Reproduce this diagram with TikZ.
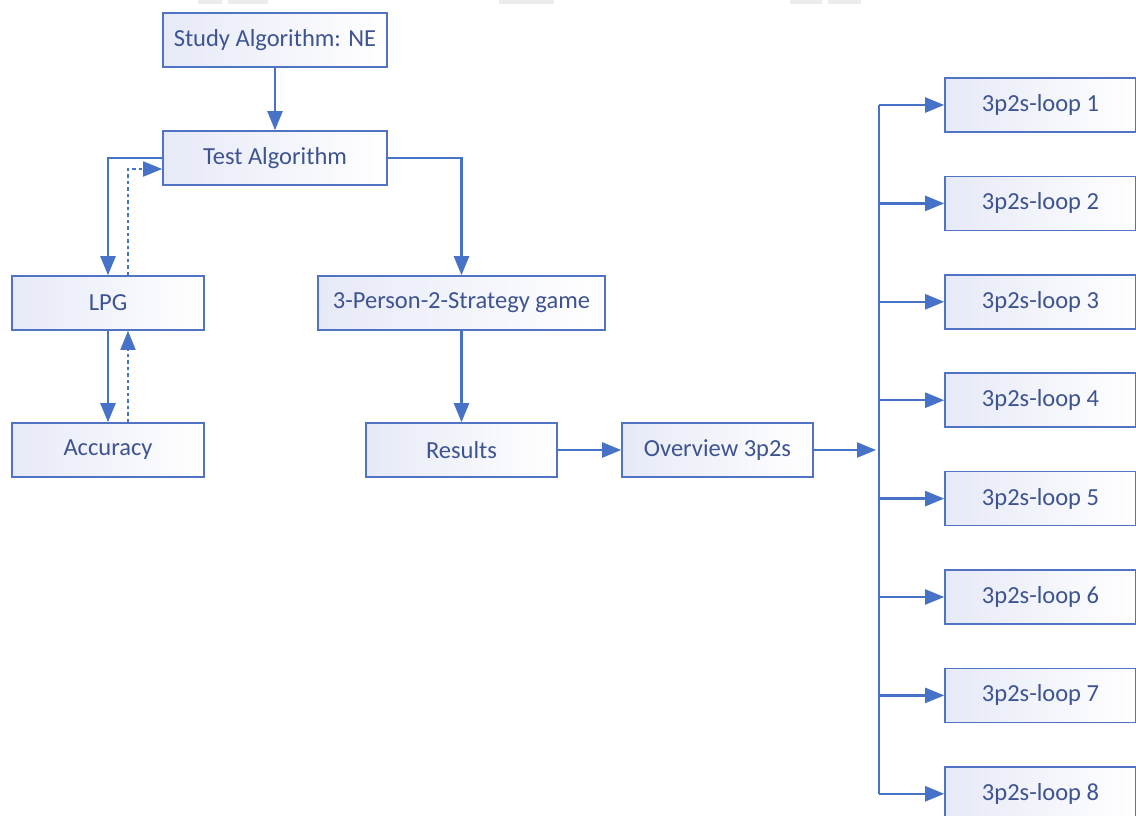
\documentclass[tikz,border=0pt]{standalone}
\usepackage{fontspec}
\setmainfont{Carlito}
\usetikzlibrary{arrows.meta}
\definecolor{bordc}{RGB}{80,115,195}
\definecolor{linec}{RGB}{70,114,200}
\definecolor{txtc}{RGB}{62,84,145}
\definecolor{fillc}{RGB}{230,233,247}
\definecolor{smudge}{RGB}{236,236,236}
\tikzset{
  box/.style={draw=bordc, line width=1.6pt, left color=fillc, right color=white,
    minimum height=54pt, inner sep=0pt, text=txtc, font=\fontsize{24.5}{28}\selectfont},
  arr/.style={draw=linec, line width=2.3pt, -{Triangle[length=19pt,width=15pt]}},
  plain/.style={draw=linec, line width=2.3pt},
  dotline/.style={dash pattern=on 3.5pt off 3pt, line width=1.8pt}
}
\begin{document}
\begin{tikzpicture}[x=1pt,y=-1pt]
\useasboundingbox (0,0) rectangle (1136,816);
\fill[white] (0,0) rectangle (1136,816);
% faint artefacts at the top edge
\fill[smudge] (198,0) rectangle (222,4);
\fill[smudge] (228,0) rectangle (268,4);
\fill[smudge] (499,0) rectangle (554,4);
\fill[smudge] (790,0) rectangle (822,4);
\fill[smudge] (828,0) rectangle (861,4);

\node[box, minimum width=224pt] (study) at (275,40) {Study Algorithm: NE};
\node[box, minimum width=224pt] (test) at (275,158) {Test Algorithm};
\node[box, minimum width=192pt] (lpg) at (108,303) {LPG};
\node[box, minimum width=192pt] (acc) at (108,450) {Accuracy};
\node[box, minimum width=287pt] (game) at (461.5,303) {3-Person-2-Strategy game};
\node[box, minimum width=191pt] (res) at (461.5,450) {Results};
\node[box, minimum width=191pt] (ov) at (717.5,450) {Overview 3p2s};
\foreach \i/\y in {1/105,2/203.4,3/301.8,4/400.2,5/498.6,6/597,7/695.4,8/793.8}{
  \node[box, minimum width=191pt] (loop\i) at (1040.5,\y) {3p2s-loop \i};
}
\coordinate (btop) at (879,105);
\coordinate (bbot) at (879,793.8);
\coordinate (bmid) at (879,450);

\draw[arr] (study.south) -- (test.north);
\draw[arr] (test.west) -| (lpg.north);
\draw[arr, dotline] ([xshift=20pt]lpg.north) |- ([yshift=-11pt]test.west);
\draw[arr] (lpg.south) -- (acc.north);
\draw[arr, dotline] ([xshift=20pt]acc.north) -- ([xshift=20pt]lpg.south);
\draw[arr] (test.east) -| (game.north);
\draw[arr] (game.south) -- (res.north);
\draw[arr] (res.east) -- (ov.west);
\draw[arr, shorten >=3pt] (ov.east) -- (bmid);
\draw[plain] (btop) -- (bbot);
\foreach \i in {1,...,8}{
  \draw[arr] (loop\i.west -| btop) -- (loop\i.west);
}
\end{tikzpicture}
\end{document}
